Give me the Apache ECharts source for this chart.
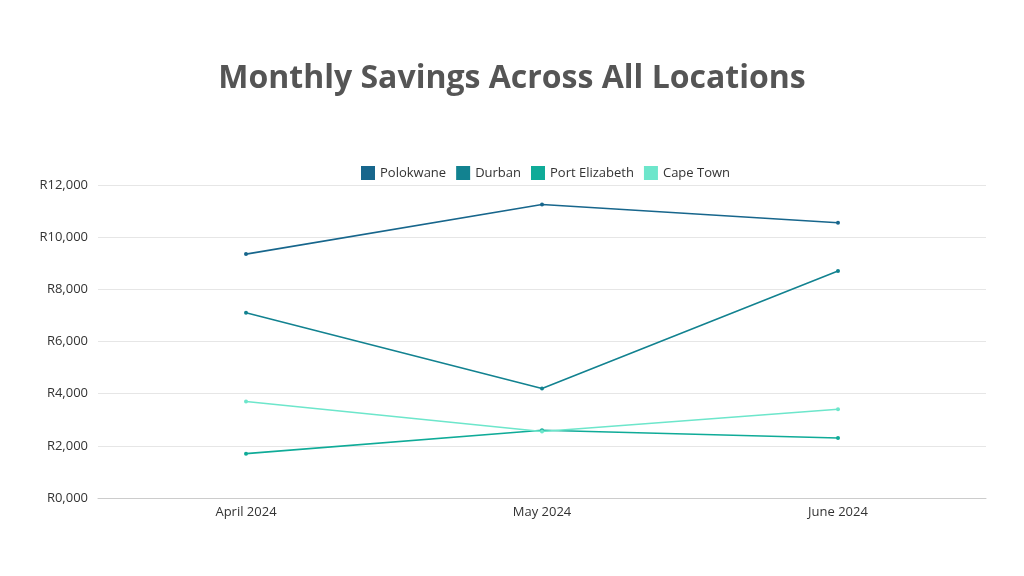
<!DOCTYPE html>
<html>
<head>
<meta charset="utf-8">
<title>Monthly Savings Across All Locations</title>
<script src="https://cdn.jsdelivr.net/npm/echarts@6/dist/echarts.min.js"></script>
<style>
  html, body { margin: 0; padding: 0; background: #fff; }
  #chart { width: 1024px; height: 576px; }
</style>
</head>
<body>
<div id="chart"></div>
<script>
// 数据
var months = ['April 2024', 'May 2024', 'June 2024'];
var polokwane = [9350, 11250, 10550];
var durban = [7100, 4200, 8700];
var portElizabeth = [1700, 2600, 2300];
var capeTown = [3700, 2550, 3400];
var seriesNames = ['Polokwane', 'Durban', 'Port Elizabeth', 'Cape Town'];
var colors = ['#17668c', '#128290', '#0fab98', '#6de6cb'];

var chart = echarts.init(document.getElementById('chart'));

function makeLine(name, data, color) {
    return {
        name: name,
        type: 'line',
        data: data,
        symbol: 'circle',
        symbolSize: 4,
        lineStyle: { width: 1.6, color: color },
        itemStyle: { color: color }
    };
}

var option = {
    animation: false,
    title: {
        text: 'Monthly Savings Across All Locations',
        left: 'center',
        top: 58,
        textStyle: {
            fontFamily: 'Open Sans',
            fontWeight: 'bold',
            fontSize: 32,
            color: '#555555'
        }
    },
    legend: {
        data: seriesNames,
        top: 161,
        left: 356,
        icon: 'rect',
        itemWidth: 14,
        itemHeight: 14,
        itemGap: 10,
        textStyle: {
            fontFamily: 'Open Sans',
            fontSize: 13,
            color: '#333'
        }
    },
    color: colors,
    grid: {
        left: 98,
        right: 38,
        top: 185,
        bottom: 78
    },
    xAxis: {
        type: 'category',
        data: months,
        boundaryGap: true,
        axisLine: { lineStyle: { color: '#cccccc', width: 1 } },
        axisTick: { show: false },
        axisLabel: {
            margin: 8,
            fontFamily: 'Open Sans',
            fontSize: 13,
            color: '#333'
        }
    },
    yAxis: {
        type: 'value',
        min: 0,
        max: 12000,
        interval: 2000,
        axisLine: { show: false },
        axisTick: { show: false },
        splitLine: { lineStyle: { color: '#e6e6e6', width: 1 } },
        axisLabel: {
            margin: 10,
            fontFamily: 'Open Sans',
            fontSize: 13,
            color: '#333',
            formatter: function (v) {
                if (v === 0) return 'R0,000';
                return 'R' + v.toLocaleString('en-US');
            }
        }
    },
    series: [
        makeLine(seriesNames[0], polokwane, colors[0]),
        makeLine(seriesNames[1], durban, colors[1]),
        makeLine(seriesNames[2], portElizabeth, colors[2]),
        makeLine(seriesNames[3], capeTown, colors[3])
    ]
};

chart.setOption(option);
window.addEventListener('resize', function () {
    chart.resize();
});
</script>
</body>
</html>
